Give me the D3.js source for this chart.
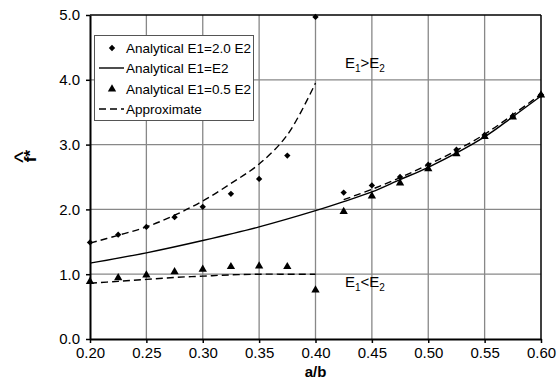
<!DOCTYPE html>
<html>
<head>
<meta charset="utf-8">
<script src="https://cdn.jsdelivr.net/npm/d3@7"></script>
<style>
  body { margin: 0; background: #fff; }
  text { font-family: "Liberation Sans", Arial, sans-serif; }
</style>
</head>
<body>
<div id="chart"></div>
<script>
// a/b values where the analytical points sit
var ratios = [0.2, 0.225, 0.25, 0.275, 0.3, 0.325, 0.35, 0.375, 0.4, 0.425, 0.45, 0.475, 0.5, 0.525, 0.55, 0.575, 0.6];
var stiff2 = [1.49, 1.61, 1.73, 1.88, 2.04, 2.24, 2.47, 2.83, 4.97, 2.26, 2.37, 2.50, 2.69, 2.92, 3.15, 3.44, 3.77];
var stiff05 = [0.87, 0.93, 0.97, 1.02, 1.06, 1.10, 1.11, 1.10, 0.74, 1.95, 2.19, 2.39, 2.61, 2.84, 3.11, 3.41, 3.75];

// analytical E1=E2 (solid)
var equalX = [0.2, 0.25, 0.3, 0.35, 0.4, 0.425, 0.45, 0.475, 0.5, 0.55, 0.575, 0.6];
var equalY = [1.17, 1.33, 1.52, 1.73, 1.98, 2.12, 2.27, 2.46, 2.65, 3.12, 3.43, 3.75];

// approximate curves (dashed)
var approxHighX = [0.2, 0.225, 0.25, 0.275, 0.3, 0.325, 0.35, 0.375, 0.4];
var approxHighY = [1.48, 1.60, 1.73, 1.91, 2.13, 2.40, 2.70, 3.15, 3.95];
var approxLowX = [0.2, 0.225, 0.25, 0.275, 0.3, 0.325, 0.35, 0.375, 0.4];
var approxLowY = [0.86, 0.89, 0.92, 0.95, 0.97, 0.99, 1.0, 1.0, 1.0];
var approxRightX = [0.425, 0.45, 0.475, 0.5, 0.525, 0.55, 0.575, 0.6];
var approxRightY = [2.15, 2.31, 2.49, 2.69, 2.91, 3.16, 3.46, 3.78];

var xTicks = [0.2, 0.25, 0.3, 0.35, 0.4, 0.45, 0.5, 0.55, 0.6];
var yTicks = [0, 1, 2, 3, 4, 5];
var legendLabels = ["Analytical E1=2.0 E2", "Analytical E1=E2", "Analytical E1=0.5 E2", "Approximate"];

var width = 557, height = 390;
var margin = {top: 15, right: 16, bottom: 51, left: 90};

var svg = d3.select("#chart").append("svg")
  .attr("width", width)
  .attr("height", height);

var x = d3.scaleLinear().domain([0.2, 0.6]).range([margin.left, width - margin.right]);
var y = d3.scaleLinear().domain([0, 5]).range([height - margin.bottom, margin.top]);

// grid
svg.append("g").selectAll("line.vg")
  .data(xTicks.slice(1, -1))
  .enter().append("line")
  .attr("x1", d => x(d)).attr("x2", d => x(d))
  .attr("y1", y(0)).attr("y2", y(5))
  .attr("stroke", "#888").attr("stroke-width", 1.3);
svg.append("g").selectAll("line.hg")
  .data(yTicks.slice(1, -1))
  .enter().append("line")
  .attr("x1", x(0.2)).attr("x2", x(0.6))
  .attr("y1", d => y(d)).attr("y2", d => y(d))
  .attr("stroke", "#888").attr("stroke-width", 1.3);

// top / right frame
svg.append("line").attr("x1", x(0.2)).attr("x2", x(0.6)).attr("y1", y(5)).attr("y2", y(5))
  .attr("stroke", "#000").attr("stroke-width", 1.5);
svg.append("line").attr("x1", x(0.6)).attr("x2", x(0.6)).attr("y1", y(0)).attr("y2", y(5))
  .attr("stroke", "#000").attr("stroke-width", 1.5);

// axes
var xAxis = svg.append("g")
  .attr("transform", "translate(0," + y(0) + ")")
  .call(d3.axisBottom(x).tickValues(xTicks).tickFormat(d3.format(".2f")).tickSizeInner(4).tickSizeOuter(0).tickPadding(4));
var yAxis = svg.append("g")
  .attr("transform", "translate(" + x(0.2) + ",0)")
  .call(d3.axisLeft(y).tickValues(yTicks).tickFormat(d3.format(".1f")).tickSizeInner(4).tickSizeOuter(0).tickPadding(6));
[xAxis, yAxis].forEach(function(g) {
  g.select(".domain").attr("stroke", "#000").attr("stroke-width", 2);
  g.selectAll(".tick line").attr("stroke", "#000").attr("stroke-width", 1.5);
  g.selectAll("text").attr("fill", "#000").style("font-size", "15px")
    .style("font-family", "'Liberation Sans', Arial, sans-serif");
});

// axis titles
svg.append("text")
  .attr("x", x(0.4)).attr("y", 377)
  .attr("text-anchor", "middle")
  .style("font-size", "15px").style("font-weight", "bold")
  .text("a/b");

var yTitle = svg.append("g").attr("transform", "translate(36,156) rotate(-90)");
yTitle.append("text")
  .attr("x", 0).attr("y", 0)
  .attr("text-anchor", "middle")
  .style("font-size", "17px").style("font-weight", "bold")
  .text("f*");
yTitle.append("text")
  .attr("x", -1).attr("y", -5)
  .attr("text-anchor", "middle")
  .style("font-size", "24px")
  .text("^");

// curves
var line = d3.line().x(d => x(d[0])).y(d => y(d[1])).curve(d3.curveCatmullRom);
function drawCurve(xs, ys, dashed) {
  svg.append("path")
    .datum(xs.map((v, i) => [v, ys[i]]))
    .attr("d", line)
    .attr("fill", "none")
    .attr("stroke", "#000")
    .attr("stroke-width", 1.4)
    .attr("stroke-dasharray", dashed ? "7,4" : null);
}
drawCurve(equalX, equalY, false);
drawCurve(approxHighX, approxHighY, true);
drawCurve(approxLowX, approxLowY, true);
drawCurve(approxRightX, approxRightY, true);

// markers
var diamond = d3.symbol().type(d3.symbolSquare).size(20);
var triangle = d3.symbol().type(d3.symbolTriangle).size(30);
svg.append("g").selectAll("path")
  .data(ratios.map((v, i) => [v, stiff2[i]]))
  .enter().append("path")
  .attr("d", diamond)
  .attr("transform", d => "translate(" + x(d[0]) + "," + y(d[1]) + ") rotate(45)")
  .attr("fill", "#000");
svg.append("g").selectAll("path")
  .data(ratios.map((v, i) => [v, stiff05[i]]))
  .enter().append("path")
  .attr("d", triangle)
  .attr("transform", d => "translate(" + x(d[0]) + "," + (y(d[1]) - 1) + ")")
  .attr("fill", "#000");

// annotations
function ineq(xp, yp, op) {
  var t = svg.append("text").attr("x", xp).attr("y", yp).style("font-size", "15px");
  t.append("tspan").text("E");
  t.append("tspan").attr("dy", 4).style("font-size", "10px").text("1");
  t.append("tspan").attr("dy", -4).text(op + "E");
  t.append("tspan").attr("dy", 4).style("font-size", "10px").text("2");
}
ineq(345, 68, ">");
ineq(345, 287, "<");

// legend
var lg = svg.append("g");
lg.append("rect")
  .attr("x", 94.5).attr("y", 35.5).attr("width", 159).attr("height", 85)
  .attr("fill", "#fff").attr("stroke", "#555").attr("stroke-width", 1);
var rowY = [48, 68, 89, 109];
lg.append("path").attr("d", diamond).attr("transform", "translate(112," + rowY[0] + ") rotate(45)").attr("fill", "#000");
lg.append("line").attr("x1", 99).attr("x2", 124).attr("y1", rowY[1]).attr("y2", rowY[1])
  .attr("stroke", "#000").attr("stroke-width", 1.4);
lg.append("path").attr("d", triangle).attr("transform", "translate(112," + rowY[2] + ")").attr("fill", "#000");
lg.append("line").attr("x1", 99).attr("x2", 124).attr("y1", rowY[3]).attr("y2", rowY[3])
  .attr("stroke", "#000").attr("stroke-width", 1.6).attr("stroke-dasharray", "7,4");
lg.selectAll("text.lab")
  .data(legendLabels)
  .enter().append("text")
  .attr("x", 126).attr("y", (d, i) => rowY[i] + 5)
  .style("font-size", "13.5px")
  .text(d => d);
</script>
</body>
</html>
